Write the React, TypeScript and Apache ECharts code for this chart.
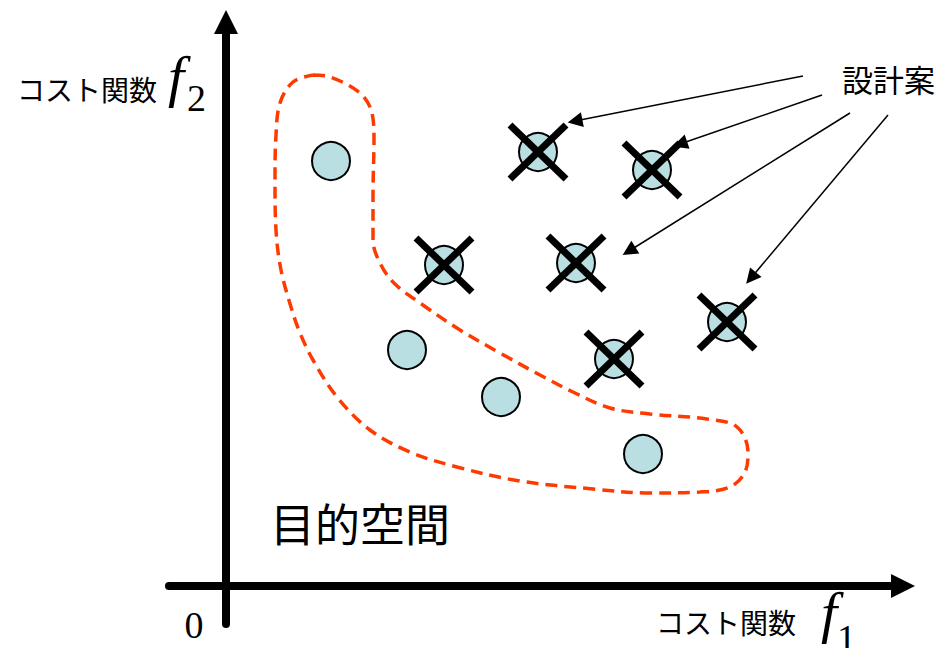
import React, { useEffect, useRef } from "react";
import * as echarts from "echarts";

// Design candidates on the Pareto front (circles only), in arbitrary cost units (f1, f2)
const paretoPoints: [number, number][] = [
  [10.5, 42.5],
  [18.1, 23.6],
  [27.5, 18.9],
  [41.7, 13.2],
];

// Dominated design candidates (circles crossed out)
const dominatedPoints: [number, number][] = [
  [31.2, 43.4],
  [42.6, 41.6],
  [21.8, 32.1],
  [35.0, 32.3],
  [38.8, 22.7],
  [50.1, 26.4],
];

// Dashed outline around the Pareto set (closed loop)
const outlinePoints: [number, number][] = [
  [8.7, 51.1], [10.4, 50.9], [13.4, 49.3], [14.6, 47.3], [14.8, 44.6],
  [14.7, 39.3], [14.7, 34.6], [15.5, 32.1], [16.9, 30.2], [19.4, 28.3],
  [23.4, 25.6], [27.4, 23.3], [31.4, 21.1], [34.7, 19.4], [38.4, 17.8],
  [42.4, 17.2], [48.1, 16.7], [51.1, 15.9], [52.2, 13.4], [51.9, 11.4],
  [50.4, 9.9], [47.4, 9.4], [42.4, 9.3], [36.7, 9.7], [29.4, 10.5],
  [23.1, 11.9], [18.4, 13.4], [14.4, 15.6], [11.1, 18.9], [8.7, 22.6],
  [7.4, 25.3], [6.5, 27.9], [5.5, 31.6], [5.0, 35.6], [4.9, 40.6],
  [5.0, 45.1], [5.4, 48.3], [6.7, 50.4], [8.7, 51.1],
];

// Annotation arrows from the "設計案" label: [start, end]
const arrowStarts: [number, number][] = [
  [57.7, 51.0],
  [59.6, 49.1],
  [62.4, 47.3],
  [66.2, 47.1],
];
const arrowEnds: [number, number][] = [
  [34.9, 46.5],
  [45.4, 44.2],
  [40.3, 33.5],
  [52.5, 30.8],
];

// Axis ranges
const xRange: [number, number] = [-5.7, 67.7];
const yRange: [number, number] = [-3.8, 56.4];

// Texts
const axisNameText = "コスト関数";
const objectiveSpaceText = "目的空間";
const candidatesText = "設計案";
const originText = "0";

const CJK = "'Noto Sans CJK JP', 'Noto Sans', sans-serif";
const SERIF = "'Liberation Serif', 'DejaVu Serif', serif";

export default function App() {
  const ref = useRef<HTMLDivElement>(null);

  useEffect(() => {
    if (!ref.current) return;
    const chart = echarts.init(ref.current, undefined, { renderer: "svg" });

    const txt = (
      text: string,
      x: number,
      y: number,
      fontSize: number,
      fontFamily: string,
      extra: Record<string, unknown> = {}
    ) => ({
      type: "text",
      x,
      y,
      z: 100,
      style: {
        text,
        fontSize,
        fontFamily,
        fill: "#000",
        align: "left",
        textAlign: "left",
        verticalAlign: "middle",
        textVerticalAlign: "middle",
        ...extra,
      },
    });

    const option: any = {
      animation: false,
      backgroundColor: "#fff",
      grid: { left: 169, right: 37, top: 22, bottom: 24 },
      xAxis: {
        type: "value",
        min: xRange[0],
        max: xRange[1],
        axisLine: {
          show: true,
          onZero: true,
          symbol: ["none", "triangle"],
          symbolSize: [24, 24],
          lineStyle: { color: "#000", width: 8 },
        },
        axisTick: { show: false },
        axisLabel: { show: false },
        splitLine: { show: false },
      },
      yAxis: {
        type: "value",
        min: yRange[0],
        max: yRange[1],
        axisLine: {
          show: true,
          onZero: true,
          symbol: ["none", "triangle"],
          symbolSize: [24, 24],
          lineStyle: { color: "#000", width: 8 },
        },
        axisTick: { show: false },
        axisLabel: { show: false },
        splitLine: { show: false },
      },
      series: [
        {
          type: "line",
          data: outlinePoints,
          smooth: 0.35,
          symbol: "none",
          silent: true,
          z: 1,
          lineStyle: { color: "#ff3a00", width: 3.5, type: [12, 7] },
        },
        {
          type: "scatter",
          data: [...paretoPoints, ...dominatedPoints],
          symbol: "circle",
          symbolSize: 38,
          z: 2,
          itemStyle: { color: "#b9dfe2", borderColor: "#000", borderWidth: 2, opacity: 1 },
        },
        {
          type: "custom",
          data: dominatedPoints,
          z: 3,
          renderItem: (_params: any, api: any) => {
            const p = api.coord([api.value(0), api.value(1)]);
            const hx = 28;
            const hy = 27;
            const st = { stroke: "#000", lineWidth: 7, fill: null };
            return {
              type: "group",
              children: [
                { type: "line", shape: { x1: p[0] - hx, y1: p[1] - hy, x2: p[0] + hx, y2: p[1] + hy }, style: st },
                { type: "line", shape: { x1: p[0] + hx, y1: p[1] - hy, x2: p[0] - hx, y2: p[1] + hy }, style: st },
              ],
            };
          },
        },
        {
          type: "lines",
          coordinateSystem: "cartesian2d",
          z: 4,
          symbol: ["none", "triangle"],
          symbolSize: [13, 15],
          lineStyle: { color: "#000", width: 1.5, opacity: 1 },
          data: arrowStarts.map((s, i) => ({ coords: [s, arrowEnds[i]] })),
        },
      ],
      graphic: [
        txt(axisNameText, 17, 89, 28, CJK),
        txt("f", 168, 76, 58, SERIF, { fontStyle: "italic" }),
        txt("2", 187, 98, 38, SERIF),
        txt(axisNameText, 656, 622, 28, CJK),
        txt("f", 821, 612, 58, SERIF, { fontStyle: "italic" }),
        txt("1", 837, 638, 38, SERIF),
        txt(originText, 194, 625, 38, SERIF, { align: "center", textAlign: "center" }),
        txt(objectiveSpaceText, 270, 522, 45, CJK),
        txt(candidatesText, 842, 78, 31, CJK),
      ],
    };

    chart.setOption(option);
    return () => chart.dispose();
  }, []);

  return (
    <div
      ref={ref}
      style={{ position: "fixed", left: 0, top: 0, width: 940, height: 648, background: "#fff" }}
    />
  );
}
